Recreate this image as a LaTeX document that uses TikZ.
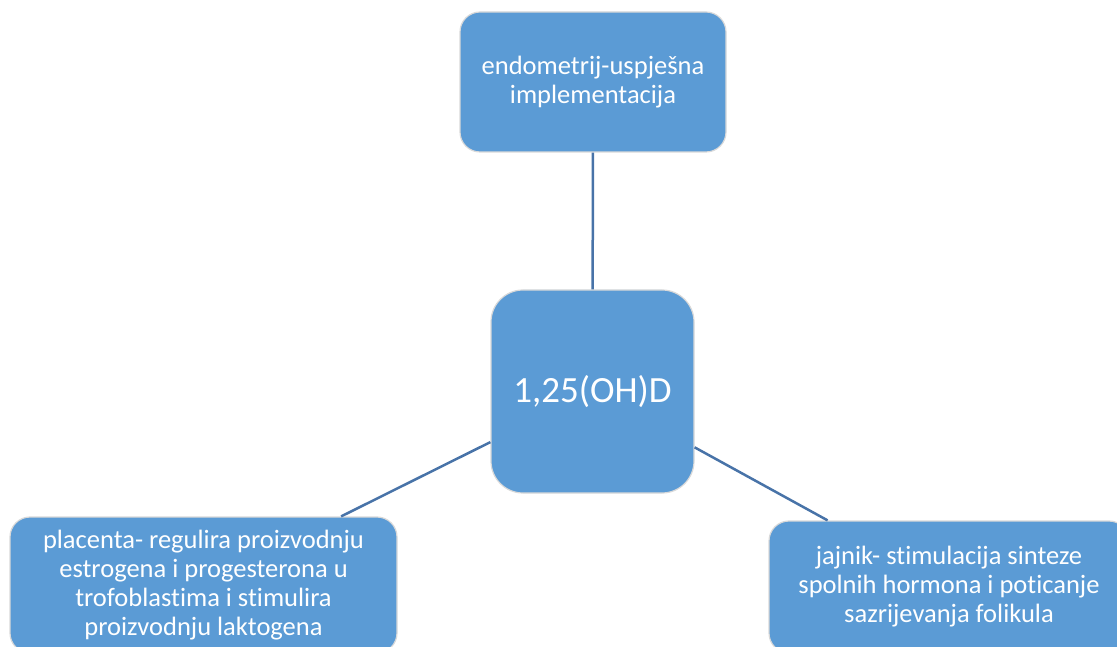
\documentclass[tikz,border=0pt]{standalone}
\usepackage{fontspec}
\setmainfont{Carlito}[Ligatures=NoCommon]
\definecolor{boxblue}{RGB}{91,155,213}
\definecolor{linkblue}{RGB}{72,115,168}
\begin{document}
\begin{tikzpicture}[x=1pt,y=1pt,
  box/.style={draw=white!85!black, line width=1.2pt, fill=boxblue, rounded corners=20pt,
    text=white, align=center, inner sep=0pt, font=\fontsize{26.5}{29}\selectfont},
  link/.style={draw=linkblue, line width=2.5pt}]
\useasboundingbox (0,0) rectangle (1117,646);

\node[box, minimum width=266pt, minimum height=140pt] (endo) at (593,564) {endometrij-uspješna\\implementacija};
\node[box, minimum width=203pt, minimum height=203pt, rounded corners=32pt, font=\fontsize{37}{40}\selectfont] (vitd) at (592.5,254.5) {1,25(OH)D};
\node[box, minimum width=387pt, minimum height=136pt] (placenta) at (203.5,61) {placenta- regulira proizvodnju\\estrogena i progesterona u\\trofoblastima i stimulira\\proizvodnju laktogena};
\node[box, minimum width=360pt, minimum height=132pt] (jajnik) at (949,59) {jajnik- stimulacija sinteze\\spolnih hormona i poticanje\\sazrijevanja folikula};

\draw[link] (endo) -- (vitd);
\draw[link] (vitd) -- (placenta);
\draw[link] (vitd) -- (jajnik);

\end{tikzpicture}
\end{document}
